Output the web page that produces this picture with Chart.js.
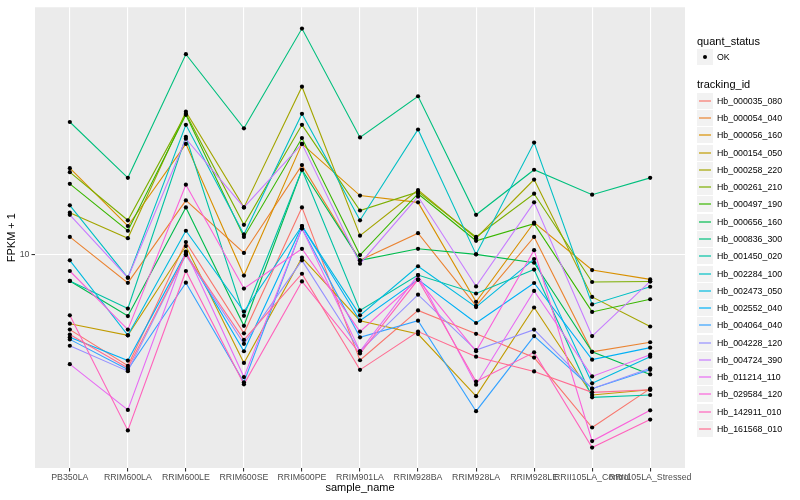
<!DOCTYPE html>
<html>
<head>
<meta charset="utf-8">
<script src="https://cdn.jsdelivr.net/npm/chart.js@4/dist/chart.umd.min.js"></script>
<style>
  body { margin: 0; background: #fff; }
  #wrap { position: relative; width: 800px; height: 500px; font-family: "Liberation Sans", Arial, sans-serif; }
  .ttl { position: absolute; left: 697px; font-size: 11px; color: #000; white-space: nowrap; line-height: 12px; }
  .key { position: absolute; left: 697px; width: 16px; background: #f2f2f2; }
  .key i { position: absolute; left: 2px; right: 2px; top: 7px; height: 2px; opacity: 0.6; }
  .key b { position: absolute; left: 6px; top: 6px; width: 4px; height: 4px; border-radius: 50%; background: #000; }
  .lbl { position: absolute; left: 717px; font-size: 8.8px; color: #000; white-space: nowrap; line-height: 10px; }
</style>
</head>
<body>
<div id="wrap">
  <canvas id="myChart" width="800" height="500"></canvas>
</div>
<script>
const samples = ['PB350LA', 'RRIM600LA', 'RRIM600LE', 'RRIM600SE', 'RRIM600PE', 'RRIM901LA',
  'RRIM928BA', 'RRIM928LA', 'RRIM928LE', 'RRII105LA_Control', 'RRII105LA_Stressed']
const trackingIds = ['Hb_000035_080', 'Hb_000054_040', 'Hb_000056_160', 'Hb_000154_050', 'Hb_000258_220',
  'Hb_000261_210', 'Hb_000497_190', 'Hb_000656_160', 'Hb_000836_300', 'Hb_001450_020',
  'Hb_002284_100', 'Hb_002473_050', 'Hb_002552_040', 'Hb_004064_040', 'Hb_004228_120',
  'Hb_004724_390', 'Hb_011214_110', 'Hb_029584_120', 'Hb_142911_010', 'Hb_161568_010']
const quantStatus = ['OK']
const yTicks = [10]

// FPKM + 1, one value per sample
const hb_000035_080 = [5.90, 4.58, 10.9, 5.75, 13.9, 4.76, 6.75, 5.73, 4.85, 2.97, 3.90]
const hb_000054_040 = [11.3, 8.19, 14.6, 10.1, 18.7, 9.59, 11.6, 6.97, 11.3, 5.05, 5.40]
const hb_000056_160 = [18.3, 12.2, 21.7, 8.62, 21.7, 15.1, 14.4, 7.17, 12.5, 8.96, 8.39]
const hb_000154_050 = [6.15, 5.67, 10.6, 4.67, 9.77, 6.28, 5.72, 3.70, 6.89, 3.73, 3.87]
const hb_000258_220 = [13.4, 11.2, 27.2, 13.9, 32.4, 11.4, 15.7, 11.2, 16.9, 7.42, 6.03]
const hb_000261_210 = [17.8, 12.7, 26.8, 12.3, 24.8, 13.6, 15.5, 11.3, 15.3, 8.24, 8.27]
const hb_000497_190 = [16.4, 11.8, 26.6, 11.3, 22.6, 9.95, 15.3, 11.0, 12.4, 6.68, 7.30]
const hb_000656_160 = [8.30, 6.49, 13.9, 6.06, 18.1, 9.59, 10.4, 10.0, 9.43, 5.05, 4.31]
const hb_000836_300 = [25.3, 17.1, 40.7, 24.2, 48.7, 22.7, 30.3, 13.2, 18.1, 15.2, 17.1]
const hb_001450_020 = [8.30, 6.84, 22.8, 6.50, 18.1, 6.75, 8.65, 7.60, 8.99, 3.67, 3.73]
const hb_002284_100 = [14.1, 8.49, 24.8, 11.5, 26.8, 12.7, 24.0, 10.0, 21.9, 7.04, 7.97]
const hb_002473_050 = [9.59, 5.67, 11.8, 6.70, 12.2, 6.52, 9.20, 6.91, 9.68, 4.05, 4.88]
const hb_002552_040 = [5.59, 4.75, 10.1, 5.07, 12.2, 6.28, 8.38, 6.18, 8.18, 4.78, 5.20]
const hb_004064_040 = [5.51, 4.46, 8.20, 4.08, 12.0, 5.59, 6.28, 3.33, 5.64, 3.90, 4.45]
const hb_004228_120 = [5.27, 4.41, 9.95, 5.34, 9.59, 5.07, 7.54, 5.11, 5.90, 3.90, 4.50]
const hb_004724_390 = [13.2, 8.49, 22.5, 13.9, 21.7, 9.37, 15.0, 7.99, 14.4, 5.64, 8.27]
const hb_011214_110 = [4.63, 3.36, 10.2, 4.23, 12.0, 5.07, 8.65, 4.01, 7.74, 4.25, 4.95]
const hb_029584_120 = [8.90, 5.90, 16.3, 7.87, 10.4, 5.82, 8.38, 5.07, 10.3, 2.70, 3.35]
const hb_142911_010 = [6.52, 2.91, 8.90, 4.02, 8.27, 4.99, 8.38, 4.10, 5.03, 2.58, 3.14]
const hb_161568_010 = [5.70, 4.51, 10.0, 5.49, 8.73, 4.45, 5.82, 4.88, 4.40, 3.80, 3.87]

const seriesValues = [hb_000035_080, hb_000054_040, hb_000056_160, hb_000154_050, hb_000258_220,
  hb_000261_210, hb_000497_190, hb_000656_160, hb_000836_300, hb_001450_020,
  hb_002284_100, hb_002473_050, hb_002552_040, hb_004064_040, hb_004228_120,
  hb_004724_390, hb_011214_110, hb_029584_120, hb_142911_010, hb_161568_010]

const colors = ['#F8766D', '#EA8331', '#D89000', '#C09B00', '#A3A500', '#7CAE00', '#39B600', '#00BB4E',
  '#00BF7D', '#00C1A3', '#00BFC4', '#00BAE0', '#00B0F6', '#35A2FF', '#9590FF', '#C77CFF',
  '#E76BF3', '#FA62DB', '#FF62BC', '#FF6C91']

const font = 'Liberation Sans, Arial, sans-serif'

const lines = trackingIds.map((id, i) => ({
  label: id,
  data: seriesValues[i].map((v, j) => ({ x: j, y: v })),
  borderColor: colors[i],
  borderWidth: 1.1,
  pointRadius: 0,
  tension: 0,
  order: 40 - i
}))
const points = trackingIds.map((id, i) => ({
  label: id + ' ' + quantStatus[0],
  data: seriesValues[i].map((v, j) => ({ x: j, y: v })),
  showLine: false,
  pointRadius: 2.1,
  pointBorderWidth: 0,
  pointBackgroundColor: '#000',
  order: 0
}))

const panelBg = {
  id: 'panelBg',
  beforeDraw(chart) {
    const { ctx, chartArea: a } = chart
    ctx.save()
    ctx.fillStyle = '#ebebeb'
    ctx.fillRect(a.left, a.top, a.width, a.height)
    ctx.restore()
  }
}

const config = {
  type: 'line',
  data: { datasets: lines.concat(points) },
  options: {
    responsive: false,
    animation: false,
    devicePixelRatio: 1,
    layout: { padding: { left: 0, right: 115, top: 5, bottom: 0 } },
    plugins: { legend: { display: false }, tooltip: { enabled: false } },
    scales: {
      x: {
        type: 'linear',
        min: -0.6,
        max: samples.length - 0.4,
        afterBuildTicks: s => { s.ticks = samples.map((_, i) => ({ value: i })) },
        afterFit: s => { s.height = 32 },
        ticks: {
          autoSkip: false, maxRotation: 0, minRotation: 0, padding: 1,
          color: '#4d4d4d', font: { family: font, size: 8.8 },
          callback: v => samples[v]
        },
        grid: { color: '#fff', lineWidth: 1.1, tickColor: '#333', tickLength: 3.5 },
        border: { display: false },
        title: { display: true, text: 'sample_name', color: '#000',
          font: { family: font, size: 11 }, padding: { top: 0, bottom: 5 } }
      },
      y: {
        type: 'logarithmic',
        min: 2.236,
        max: 56.55,
        afterBuildTicks: s => { s.ticks = yTicks.map(v => ({ value: v })) },
        afterFit: s => { s.width = 35 },
        ticks: { padding: 2, color: '#4d4d4d', font: { family: font, size: 8.8 }, callback: v => String(v) },
        grid: { color: '#fff', lineWidth: 1.1, tickColor: '#333', tickLength: 3.5 },
        border: { display: false },
        title: { display: true, text: 'FPKM + 1', color: '#000',
          font: { family: font, size: 11 }, padding: { top: 5, bottom: 0 } }
      }
    }
  },
  plugins: [panelBg]
}

const myChart = new Chart(document.querySelector('#myChart'), config)

// ggplot-like legend, real text
const wrap = document.querySelector('#wrap')
function add(cls, top, height, text) {
  const el = document.createElement('div')
  el.className = cls
  el.style.top = top + 'px'
  if (height) el.style.height = height + 'px'
  if (text) el.textContent = text
  wrap.appendChild(el)
  return el
}
add('ttl', 34.5, 0, 'quant_status')
const okKey = add('key', 49, 16)
okKey.appendChild(document.createElement('b'))
add('lbl', 52, 0, quantStatus[0])
add('ttl', 78, 0, 'tracking_id')
const step = 17.28
trackingIds.forEach((id, i) => {
  const cy = 100.7 + step * i
  const k = add('key', Math.round(cy - 8), 16)
  const ln = document.createElement('i')
  ln.style.background = colors[i]
  k.appendChild(ln)
  add('lbl', Math.round(cy - 5), 0, id)
})
</script>
</body>
</html>
